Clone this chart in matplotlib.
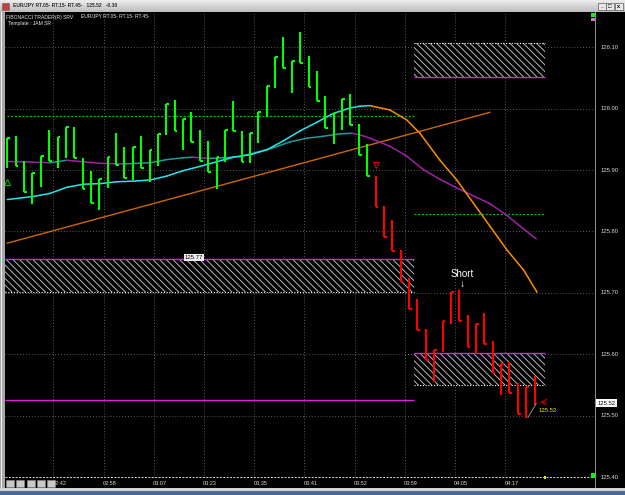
import matplotlib
matplotlib.use("Agg")
import matplotlib.pyplot as plt
from matplotlib.patches import Rectangle
import numpy as np

W, H = 625, 495
plt.rcParams["font.family"] = ["Liberation Sans", "DejaVu Sans"]
plt.rcParams["hatch.linewidth"] = 0.7

# range bars: high / low / close (close = tick side)
bar_high = [125.953, 125.956, 125.915, 125.896, 125.923, 125.965, 125.954, 125.971,
            125.971, 125.920, 125.899, 125.886, 125.922, 125.960, 125.938, 125.937,
            125.956, 125.932, 125.958, 126.008, 126.014, 125.983, 125.995, 125.966,
            125.948, 125.921, 125.965, 126.013, 125.963, 125.961, 125.994, 126.037,
            126.084, 126.117, 126.077, 126.125, 126.086, 126.062, 126.020, 125.993,
            126.016, 126.024, 125.975, 125.942, 125.890, 125.842, 125.819, 125.770,
            125.724, 125.690, 125.641, 125.607, 125.655, 125.701, 125.705, 125.664,
            125.649, 125.667, 125.621, 125.584, 125.587, 125.553, 125.547, 125.564]
bar_low = [125.903, 125.906, 125.865, 125.845, 125.872, 125.915, 125.903, 125.919,
           125.919, 125.869, 125.847, 125.835, 125.871, 125.908, 125.887, 125.884,
           125.904, 125.881, 125.907, 125.957, 125.963, 125.932, 125.945, 125.915,
           125.897, 125.870, 125.914, 125.963, 125.913, 125.911, 125.944, 125.987,
           126.033, 126.067, 126.026, 126.075, 126.036, 126.013, 125.968, 125.942,
           125.965, 125.973, 125.925, 125.891, 125.840, 125.791, 125.769, 125.718,
           125.674, 125.640, 125.590, 125.555, 125.604, 125.649, 125.654, 125.612,
           125.601, 125.617, 125.570, 125.534, 125.537, 125.502, 125.497, 125.517]
bar_close = [125.953, 125.906, 125.865, 125.896, 125.923, 125.915, 125.954, 125.971,
             125.919, 125.869, 125.847, 125.886, 125.922, 125.908, 125.887, 125.937,
             125.904, 125.932, 125.958, 126.008, 125.963, 125.983, 125.945, 125.915,
             125.897, 125.921, 125.965, 125.963, 125.913, 125.961, 125.994, 126.037,
             126.084, 126.067, 126.077, 126.075, 126.036, 126.013, 125.968, 125.993,
             126.016, 125.973, 125.925, 125.891, 125.840, 125.791, 125.769, 125.718,
             125.674, 125.640, 125.590, 125.607, 125.655, 125.701, 125.654, 125.612,
             125.649, 125.617, 125.570, 125.584, 125.537, 125.502, 125.547, 125.520]
n_green = 44
last_price = 125.52

# moving averages (bar position, price)
fast_x = [0, 3.1, 5.1, 7.1, 9.1, 11.1, 13.1, 15.1, 17.1, 19.0, 21.0, 23.0, 27.0, 29.0,
          31.0, 32.9, 35.0, 37.0, 38.9, 40.9, 42.1, 43.3, 45.7, 47.7, 49.3, 51.7, 53.7,
          55.7, 57.7, 59.7, 61.7, 63.3]
fast_y = [125.852, 125.857, 125.862, 125.872, 125.877, 125.878, 125.881, 125.882,
          125.884, 125.890, 125.899, 125.906, 125.921, 125.925, 125.933, 125.947,
          125.964, 125.978, 125.992, 126.001, 126.004, 126.005, 125.998, 125.982,
          125.960, 125.916, 125.884, 125.846, 125.808, 125.770, 125.737, 125.701]
slow_x = [0, 2.7, 5.1, 7.1, 8.7, 11.1, 13.8, 17.1, 19.0, 21.0, 22.2, 23.0, 24.2, 25.8,
          27.8, 29.8, 31.7, 33.8, 35.8, 37.7, 39.7, 41.2, 42.5, 43.7, 45.7, 47.7, 49.7,
          51.7, 53.7, 55.7, 57.7, 59.7, 61.7, 63.2]
slow_y = [125.914, 125.913, 125.912, 125.916, 125.914, 125.911, 125.910, 125.912,
          125.917, 125.920, 125.921, 125.920, 125.919, 125.920, 125.922, 125.929,
          125.936, 125.946, 125.952, 125.955, 125.959, 125.960, 125.956, 125.950,
          125.939, 125.923, 125.901, 125.885, 125.871, 125.858, 125.845, 125.826,
          125.804, 125.788]

trend_x = [0, 57.65]
trend_y = [125.781, 125.994]

# zones: pink edge / white dotted edge, x span
zone_x0 = [48.6, -0.3, 48.6]
zone_x1 = [64.2, 48.6, 64.2]
zone_pink = [126.052, 125.756, 125.602]
zone_dot = [126.107, 125.702, 125.550]

green_lvl_y = [125.988, 125.829]
green_lvl_x0 = [0, 48.6]
green_lvl_x1 = [48.6, 64.2]
pink_lvl_y = 125.526

price_ticks = [126.10, 126.00, 125.90, 125.80, 125.70, 125.60, 125.50, 125.40]
time_labels = ["02:42", "02:58", "03:07", "03:23", "03:35", "03:41",
               "03:52", "03:59", "04:05", "04:17"]


def pxr(x, y, w, h):
    return [x / W, 1 - (y + h) / H, w / W, h / H]


fig = plt.figure(figsize=(W / 100, H / 100), dpi=100, facecolor="black")
ax = fig.add_axes(pxr(5, 12, 590, 466))
ax.set_facecolor("black")
ax.set_xlim(-0.275, 70.22)
ax.set_ylim(125.3985, 126.1575)
for s in ax.spines.values():
    s.set_visible(False)
ax.set_xticks([])
ax.set_yticks([])

# grid
for k, lab in enumerate(time_labels):
    gx = 5.5 + 6 * k
    ax.axvline(gx, color="#5a5a5a", lw=0.7, ls=(0, (1, 2)), zorder=0)
    ax.text(gx - 0.1, -0.006, lab, transform=ax.get_xaxis_transform(), ha="left",
            va="top", fontsize=4, color="#d8d8d8")
for p in price_ticks:
    if p > 125.45:
        ax.axhline(p, color="#5a5a5a", lw=0.7, ls=(0, (1, 2)), zorder=0)
    ax.text(1.01, p, f"{p:.2f}", transform=ax.get_yaxis_transform(), ha="left",
            va="center", fontsize=4.2, color="#d8d8d8")
ax.axhline(125.40, color="#e0e0e0", lw=0.7, ls=(0, (2, 1.5)), zorder=1)

# zones
for x0, x1, pk, dt in zip(zone_x0, zone_x1, zone_pink, zone_dot):
    lo, hi = min(pk, dt), max(pk, dt)
    ax.add_patch(Rectangle((x0, lo), x1 - x0, hi - lo, facecolor="black",
                           edgecolor="#b8b8b8", hatch="\\\\\\\\\\", lw=0, zorder=1))
    ax.hlines(pk, x0, x1, color="#e020e0", lw=1.0, zorder=2)
    ax.hlines(dt, x0, x1, color="#ffffff", lw=0.8, ls=(0, (1, 1.5)), zorder=2)
ax.text(22.3, 125.757, "125.77", ha="center", va="center", fontsize=4.3, color="black",
        bbox=dict(boxstyle="square,pad=0.15", fc="#f0f0f0", ec="none"), zorder=6)

for y, a, b in zip(green_lvl_y, green_lvl_x0, green_lvl_x1):
    ax.hlines(y, a, b, color="#00d000", lw=0.9, ls=(0, (1.5, 1.5)), zorder=2)
ax.hlines(pink_lvl_y, -0.3, 48.6, color="#e020e0", lw=1.0, zorder=2)

ax.plot(trend_x, trend_y, color="#cc6600", lw=1.0, zorder=3)


def ma_line(xs, ys, up, down):
    for i in range(len(xs) - 1):
        c = up if ys[i + 1] >= ys[i] else down
        ax.plot(xs[i:i + 2], ys[i:i + 2], color=c, lw=1.1, solid_capstyle="round",
                zorder=3)


ma_line(slow_x, slow_y, "#1a9c9c", "#a020a8")
ma_line(fast_x, fast_y, "#20e8f0", "#ff8c00")

# bars
x = np.arange(len(bar_high))
colors = ["#00ff00"] * n_green + ["#ff0000"] * (len(x) - n_green)
ax.vlines(x, bar_low, bar_high, colors=colors, lw=1.5, zorder=4)
ax.hlines(bar_close[:-1], x[:-1], x[:-1] + 0.33, colors=colors[:-1], lw=1.5, zorder=4)

# markers
ax.plot(0, 125.881, marker="^", ms=5, mfc="none", mec="#00c000", mew=0.8, zorder=5)
ax.plot(44.1, 125.908, marker="v", ms=5, mfc="none", mec="#e00000", mew=0.8, zorder=5)

ax.text(54.3, 125.731, "Short", ha="center", va="center", fontsize=7, color="white")
ax.text(54.3, 125.714, "↓", ha="center", va="center", fontsize=7.5, color="white")

ax.plot([62.2, 63.2], [bar_low[62], last_price], color="#a0a0a0", lw=0.6, zorder=5)
ax.annotate("", xy=(63.3, last_price + 0.002), xytext=(64.7, last_price + 0.002),
            arrowprops=dict(arrowstyle="->", color="#c00000", lw=0.8), zorder=5)
ax.text(63.5, 125.508, f"{last_price:.2f}", ha="left", va="center", fontsize=4.3,
        color="#e8e800", zorder=6)
ax.text(1.004, last_price, f"{last_price:.2f}", transform=ax.get_yaxis_transform(),
        ha="left", va="center", fontsize=4.2, color="black",
        bbox=dict(boxstyle="square,pad=0.25", fc="white", ec="none"))

# header texts
fig.text(6 / W, 1 - 17 / H, "FIBONACCI TRADER(R) SRV", fontsize=3.6, color="#e8e8e8",
         va="center")
fig.text(81 / W, 1 - 17 / H, "EUR/JPY RT.05- RT.15- RT.45-", fontsize=3.6,
         color="#e8e8e8", va="center")
fig.text(8 / W, 1 - 23.5 / H, "Template : JAM SR", fontsize=3.6, color="#e8e8e8",
         va="center")

# window chrome
tb = fig.add_axes(pxr(0, 0, 625, 12))
tb.imshow(np.linspace(0.93, 0.74, 20).reshape(-1, 1), cmap="gray", vmin=0, vmax=1,
          aspect="auto", extent=(0, 1, 0, 1))
tb.axis("off")
fig.text(13 / W, 1 - 5.5 / H, "EUR/JPY RT.05- RT.15- RT.45-   125.52   -0.30",
         fontsize=3.6, color="#303030", va="center", fontweight="bold")
fig.add_artist(Rectangle((2 / W, 1 - 10 / H), 7 / W, 7 / H, fc="#c04040", ec="#606060",
                         lw=0.4, transform=fig.transFigure))
for bx, g in zip([598, 606, 615], ["_", "□", "x"]):
    fig.add_artist(Rectangle((bx / W, 1 - 10 / H), 7.5 / W, 7.5 / H, fc="#e8e8e8",
                             ec="#404040", lw=0.4, transform=fig.transFigure))
    fig.text((bx + 3.75) / W, 1 - 6.3 / H, g, fontsize=4, ha="center", va="center",
             color="black", fontweight="bold")

fig.add_artist(Rectangle((0, 1 - 488 / H), 5 / W, 476 / H, fc="#a8a8a8", ec="none",
                         transform=fig.transFigure))
fig.add_artist(Rectangle((1 / W, 1 - 488 / H), 1 / W, 476 / H, fc="#f0f0f0", ec="none",
                         transform=fig.transFigure))
fig.add_artist(Rectangle((594.5 / W, 1 - 488 / H), 1 / W, 476 / H, fc="#8c8c8c",
                         ec="none", transform=fig.transFigure))
fig.add_artist(Rectangle((591 / W, 1 - 17 / H), 4 / W, 4 / H, fc="#00ff00", ec="none",
                         transform=fig.transFigure))
fig.add_artist(Rectangle((591 / W, 1 - 21 / H), 4 / W, 3 / H, fc="#c080c0", ec="none",
                         transform=fig.transFigure))
fig.add_artist(Rectangle((591 / W, 1 - 478 / H), 4 / W, 5 / H, fc="#00ff00", ec="none",
                         transform=fig.transFigure))
fig.add_artist(Rectangle((544 / W, 1 - 479 / H), 2 / W, 3 / H, fc="#e8e800", ec="none",
                         transform=fig.transFigure))
for sx in [6, 16, 26.7, 37.3, 47.3]:
    fig.add_artist(Rectangle((sx / W, 1 - 487 / H), 8 / W, 7.5 / H, fc="#c8c8c8",
                             ec="#909090", lw=0.4, transform=fig.transFigure))
fig.add_artist(Rectangle((0, 1 - 491 / H), 1, 3 / H, fc="#d4d4d4", ec="none",
                         transform=fig.transFigure))
fig.add_artist(Rectangle((0, 0), 1, 4 / H, fc="#4a6a98", ec="none",
                         transform=fig.transFigure))

fig.savefig("out.png", dpi=100, facecolor="black")
